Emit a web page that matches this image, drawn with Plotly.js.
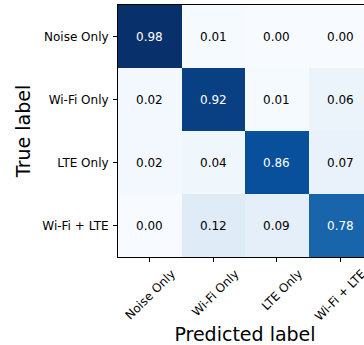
<!DOCTYPE html>
<html><head><meta charset="utf-8">
<script src="https://cdn.plot.ly/plotly-3.0.1.min.js"></script>
<style>html,body{margin:0;padding:0;overflow:hidden;background:#fff}</style>
</head><body><div id="chart" style="width:392px;height:345px"></div>
<script>
const classes = ["Noise Only", "Wi-Fi Only", "LTE Only", "Wi-Fi + LTE"];
const rowNoise = [0.98, 0.01, 0.00, 0.00];
const rowWifi  = [0.02, 0.92, 0.01, 0.06];
const rowLte   = [0.02, 0.04, 0.86, 0.07];
const rowBoth  = [0.00, 0.12, 0.09, 0.78];
const z = [rowNoise, rowWifi, rowLte, rowBoth];

const blues = [[0,'#f7fbff'],[0.125,'#deebf7'],[0.25,'#c6dbef'],[0.375,'#9ecae1'],[0.5,'#6baed6'],[0.625,'#4292c6'],[0.75,'#2171b5'],[0.875,'#08519c'],[1,'#08306b']];
let zmax = -Infinity; z.forEach(r => r.forEach(v => { if (v > zmax) zmax = v; }));
const thresh = zmax / 2;

const annotations = [];
z.forEach((r, i) => r.forEach((v, j) => {
  annotations.push({x: classes[j], y: classes[i], text: v.toFixed(2), showarrow: false,
    font: {family: 'DejaVu Sans', size: 12, color: v > thresh ? '#ffffff' : '#000000'}});
}));

const font = {family: 'DejaVu Sans', size: 12, color: '#000'};
Plotly.newPlot('chart', [{
  type: 'heatmap', x: classes, y: classes, z: z, colorscale: blues, zmin: 0, zmax: zmax,
  showscale: false, hoverinfo: 'skip'
}], {
  width: 392, height: 345,
  margin: {l: 118, r: 20, t: 5, b: 88, autoexpand: false},
  paper_bgcolor: '#fff', plot_bgcolor: '#fff',
  font: font,
  annotations: annotations,
  xaxis: {
    title: {text: 'Predicted label', font: {family: 'DejaVu Sans', size: 19, color: '#000'}, standoff: 0},
    tickangle: -45, ticks: 'outside', ticklen: 4, tickwidth: 1, tickcolor: '#000',
    ticklabelshift: 22, ticklabelstandoff: 0,
    showline: true, mirror: true, linecolor: '#000', linewidth: 1,
    showgrid: false, zeroline: false, automargin: false, tickfont: font
  },
  yaxis: {
    title: {text: 'True label', font: {family: 'DejaVu Sans', size: 19, color: '#000'}, standoff: 6},
    autorange: 'reversed', ticks: 'outside', ticklen: 4, tickwidth: 1, tickcolor: '#000',
    ticklabelstandoff: 2,
    showline: true, mirror: true, linecolor: '#000', linewidth: 1,
    showgrid: false, zeroline: false, automargin: false, tickfont: font
  }
}, {staticPlot: true});
</script></body></html>
